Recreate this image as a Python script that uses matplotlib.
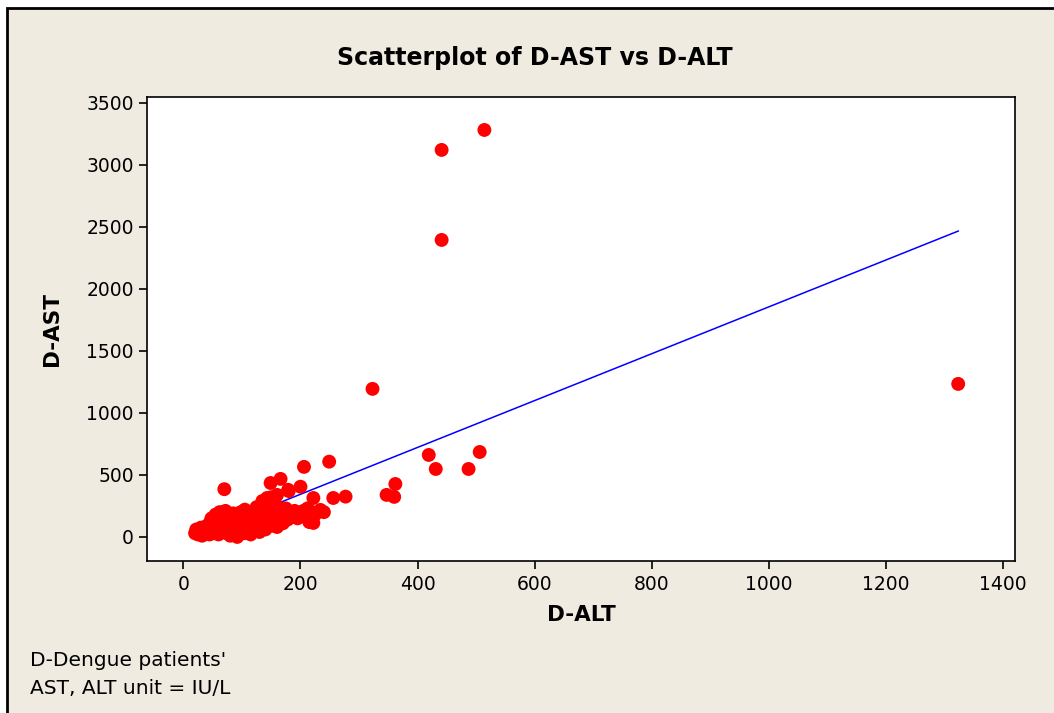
import matplotlib
matplotlib.use("Agg")
import matplotlib.pyplot as plt
from matplotlib.patches import Rectangle

# D-ALT (x) and D-AST (y) values, IU/L
alt = [20, 22, 25, 28, 30, 32, 35, 38, 40, 42, 45, 46, 48, 50, 52, 55, 55, 58, 60, 60,
       62, 65, 66, 68, 70, 70, 72, 74, 75, 78, 80, 80, 82, 85, 85, 88, 90, 92, 95, 95,
       98, 100, 100, 102, 105, 105, 108, 110, 112, 115, 115, 118, 120, 120, 122, 125, 125, 128, 130, 130,
       132, 135, 135, 138, 140, 140, 142, 145, 148, 150, 150, 152, 155, 158, 160, 160, 166, 165, 168, 170,
       172, 175, 178, 180, 182, 185, 190, 195, 200, 200, 205, 210, 212, 215, 218, 222, 220, 225, 234, 222,
       240, 143, 149, 160, 179, 206, 249, 256, 277, 323, 347, 360, 362, 419, 431, 441, 441, 487, 506, 514,
       1323]
ast = [30, 60, 20, 45, 75, 10, 50, 30, 90, 60, 20, 120, 150, 40, 80, 180, 110, 60, 20, 140,
       200, 90, 50, 160, 385, 120, 210, 30, 80, 170, 10, 140, 60, 100, 190, 40, 150, 0, 80, 120,
       200, 50, 160, 100, 30, 220, 140, 70, 180, 120, 20, 90, 200, 150, 60, 240, 110, 170, 40, 130,
       210, 80, 290, 160, 110, 60, 240, 190, 140, 90, 320, 220, 170, 120, 250, 80, 468, 200, 150, 110,
       180, 230, 140, 370, 200, 160, 210, 150, 405, 190, 210, 170, 230, 120, 140, 314, 200, 180, 218, 113,
       200, 314, 435, 339, 380, 565, 607, 314, 325, 1194, 339, 323, 427, 661, 548, 2395, 3121, 548, 685, 3282,
       1234]

# fitted regression line: D-AST = intercept + slope * D-ALT
intercept = -34
slope = 1.89

xticks = [0, 200, 400, 600, 800, 1000, 1200, 1400]
yticks = [0, 500, 1000, 1500, 2000, 2500, 3000, 3500]

bg = "#efebe1"
fig = plt.figure(figsize=(10.54, 7.13), dpi=100, facecolor="white")

# beige panel with dark frame on top/left (continues past the right and bottom edges)
fig.patches.append(Rectangle((7 / 1054, -0.05), 1.1, 1 - 7.5 / 713 + 0.05,
                             transform=fig.transFigure, facecolor=bg, edgecolor="black",
                             linewidth=2, zorder=-5))

ax = fig.add_axes([0.1395, 0.2132, 0.8235, 0.6508])
ax.set_zorder(1)

xmin, xmax = min(alt), max(alt)
ax.plot([xmin, xmax], [intercept + slope * xmin, intercept + slope * xmax],
        color="#0000ff", linewidth=1.1, zorder=2)
ax.scatter(alt, ast, s=100, color="#ff0000", edgecolors="none", zorder=3)

ax.set_xlim(-62, 1420)
ax.set_ylim(-194, 3548)
ax.set_xticks(xticks)
ax.set_yticks(yticks)
ax.tick_params(direction="out", length=6, width=1.2, labelsize=13.5, colors="black")
ax.tick_params(axis="x", pad=4)
for sp in ax.spines.values():
    sp.set_linewidth(1.2)

ax.set_xlabel("D-ALT", fontsize=15.5, fontweight="bold", labelpad=8)
ax.set_ylabel("D-AST", fontsize=15.5, fontweight="bold")
ax.yaxis.set_label_coords(-0.098, 0.5)

fig.text(0.507, 1 - 58 / 713, "Scatterplot of D-AST vs D-ALT", ha="center", va="center",
         fontsize=17, fontweight="bold")
fig.text(30 / 1054, 1 - 660 / 713, "D-Dengue patients'", ha="left", va="center", fontsize=14.5)
fig.text(30 / 1054, 1 - 688 / 713, "AST, ALT unit = IU/L", ha="left", va="center", fontsize=14.5)

fig.savefig("out.png", dpi=100, facecolor="white")
